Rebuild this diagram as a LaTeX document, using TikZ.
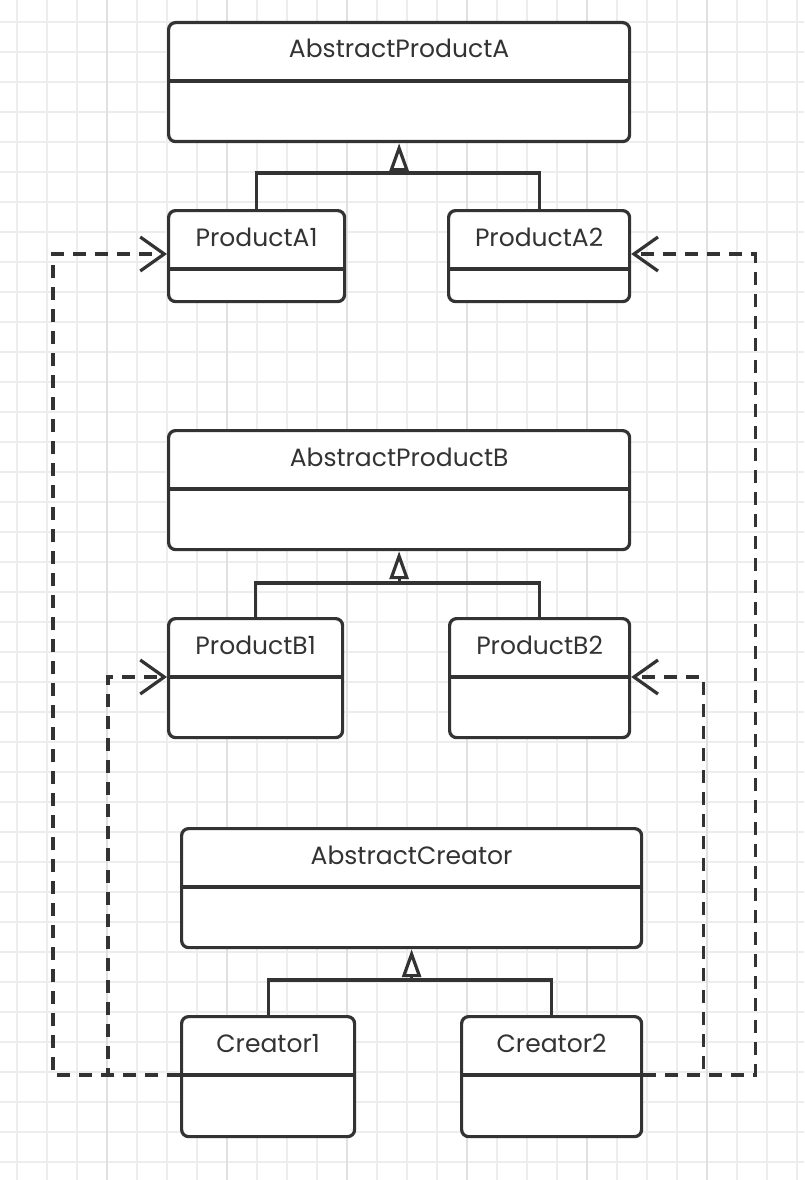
\documentclass[tikz,border=0pt]{standalone}
\usepackage{fontspec}
\setmainfont{Poppins}
\usetikzlibrary{arrows.meta,calc}

\definecolor{umlgray}{HTML}{333333}
\definecolor{gridminor}{HTML}{EDEDED}
\definecolor{gridmajor}{HTML}{E0E0E0}

\tikzset{
	classbox/.style={draw=umlgray, line width=3.2pt, rounded corners=7pt, fill=white, inner sep=0pt},
	divline/.style={draw=umlgray, line width=3.2pt},
	classname/.style={text=umlgray, font=\fontsize{25}{30}\selectfont, inner sep=0pt},
	genline/.style={draw=umlgray, line width=3.2pt},
	generalize/.style={genline, -{Triangle[open, length=28pt, width=19pt]}},
	dependency/.style={draw=umlgray, line width=3.2pt, dash pattern=on 13pt off 9pt,
		-{Straight Barb[length=24pt, width=34pt]}},
}

% class box: name, top left corner, width, height, title
\newcommand{\umlclass}[5]{%
	\node[classbox, minimum width=#3, minimum height=#4, anchor=north west] (#1) at (#2) {};
	\draw[divline] ([yshift=-60pt]#1.north west) coordinate (#1-dw) -- ([yshift=-60pt]#1.north east) coordinate (#1-de);
	\node[classname, anchor=base] (#1-title) at ([yshift=-37pt]#1.north) {#5};
}

\begin{document}
\begin{tikzpicture}[x=1pt,y=-1pt]
	\useasboundingbox (0,0) rectangle (804,1180);
	% Background grid
	\fill[white] (0,0) rectangle (804,1180);
	\foreach \x in {17,47,...,797} \draw[gridminor, line width=1.5pt] (\x,0) -- (\x,1180);
	\foreach \y in {22,52,...,1162} \draw[gridminor, line width=1.5pt] (0,\y) -- (804,\y);
	\foreach \x in {107,227,...,707} \draw[gridmajor, line width=1.5pt] (\x,0) -- (\x,1180);
	
	% Classes
	\umlclass{apa}{167,21}{461pt}{119pt}{AbstractProductA}
	\umlclass{pa1}{167,209}{176pt}{91pt}{ProductA1}
	\umlclass{pa2}{447,209}{181pt}{91pt}{ProductA2}
	
	\umlclass{apb}{167,429}{461pt}{119pt}{AbstractProductB}
	\umlclass{pb1}{167,617}{174pt}{119pt}{ProductB1}
	\umlclass{pb2}{448,617}{180pt}{119pt}{ProductB2}
	
	\umlclass{ac}{180,827}{460pt}{119pt}{AbstractCreator}
	\umlclass{c1}{180,1015}{173pt}{120pt}{Creator1}
	\umlclass{c2}{460,1015}{180pt}{120pt}{Creator2}
	
	% Generalization
	\coordinate (ja) at ([yshift=36pt]apa.south |- pa1.north);
	\draw[genline] (pa1.north) |- (ja) -| (pa2.north);
	\draw[generalize] (ja) -- (apa.south);
	
	\coordinate (jb) at ([yshift=34pt]apb.south |- pb1.north);
	\draw[genline] (pb1.north) |- (jb) -| (pb2.north);
	\draw[generalize] (jb) -- (apb.south);
	
	\coordinate (jc) at ([yshift=35pt]ac.south |- c1.north);
	\draw[genline] (c1.north) |- (jc) -| (c2.north);
	\draw[generalize] (jc) -- (ac.south);
	
	% Dependencies
	\draw[dependency] (c1-dw) -- ++(-127,0) |- ([yshift=-45pt]pa1.north west);
	\draw[dependency] (c1-dw) -- ++(-72,0) |- (pb1-dw);
	\draw[dependency] (c2-de) -- ++(112,0) |- ([yshift=-45pt]pa2.north east);
	\draw[dependency] (c2-de) -- ++(60,0) |- (pb2-de);
\end{tikzpicture}
\end{document}
